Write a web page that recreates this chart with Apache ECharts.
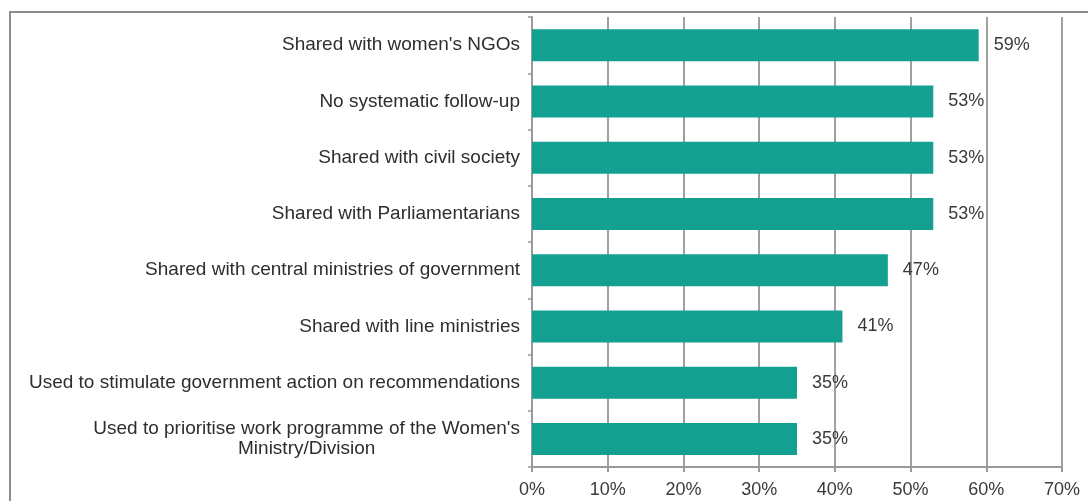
<!DOCTYPE html>
<html lang="en">
<head>
	<meta charset="UTF-8">
	<title>Bar chart</title>
	<style>
       html, body { margin: 0; padding: 0; background: #fff; }
       #chart_box { width: 1088px; height: 501px; }
	</style>
	<script type="text/javascript" src="https://cdn.jsdelivr.net/npm/echarts@6/dist/echarts.min.js"></script>
</head>
<body>
	<div id="chart_box"></div>
	<script type="text/javascript">
      // data
      var categories = [
          "Shared with women's NGOs",
          "No systematic follow-up",
          "Shared with civil society",
          "Shared with Parliamentarians",
          "Shared with central ministries of government",
          "Shared with line ministries",
          "Used to stimulate government action on recommendations",
          "Used to prioritise work programme of the Women's\nMinistry/Division"
      ];
      var percents = [59, 53, 53, 53, 47, 41, 35, 35];
      var xTicks = [0, 10, 20, 30, 40, 50, 60, 70];

      var chart = echarts.init(document.getElementById('chart_box'));

      var option = {
          animation: false,
          textStyle: { fontFamily: 'Liberation Sans, Arial, sans-serif' },
          graphic: [{
              type: 'rect',
              shape: { x: 10, y: 12, width: 1100, height: 510 },
              style: { fill: 'none', stroke: '#8c8c8c', lineWidth: 2 }
          }],
          grid: { left: 532, right: 26, top: 17, bottom: 34 },
          xAxis: {
              type: 'value',
              min: xTicks[0],
              max: xTicks[xTicks.length - 1],
              interval: 10,
              axisLine: { show: true, lineStyle: { color: '#9a9a9a', width: 2 } },
              axisTick: { show: true, length: 5, lineStyle: { color: '#9a9a9a', width: 2 } },
              splitLine: { show: true, lineStyle: { color: '#a0a0a0', width: 2 } },
              axisLabel: {
                  formatter: '{value}%',
                  fontSize: 18,
                  color: '#3a3a3a',
                  margin: 14
              }
          },
          yAxis: {
              type: 'category',
              inverse: true,
              data: categories,
              axisLine: { show: true, lineStyle: { color: '#9a9a9a', width: 2 } },
              axisTick: { show: true, length: 4, lineStyle: { color: '#9a9a9a', width: 1.5 } },
              axisLabel: {
                  fontSize: 19,
                  color: '#2e2e2e',
                  margin: 12,
                  lineHeight: 20,
                  formatter: function (val) {
                      // keep wrapped label lines centred on each other
                      return val.split('\n').map(function (s) { return '{c|' + s + '}'; }).join('\n');
                  },
                  rich: { c: { align: 'center', fontSize: 19, color: '#2e2e2e', lineHeight: 20 } }
              }
          },
          series: [{
              type: 'bar',
              data: percents,
              barWidth: 32,
              itemStyle: { color: '#14a090' },
              label: {
                  show: true,
                  position: 'right',
                  distance: 15,
                  formatter: '{c}%',
                  fontSize: 18,
                  color: '#3a3a3a'
              }
          }]
      };
      chart.setOption(option);
	</script>
</body>
</html>
